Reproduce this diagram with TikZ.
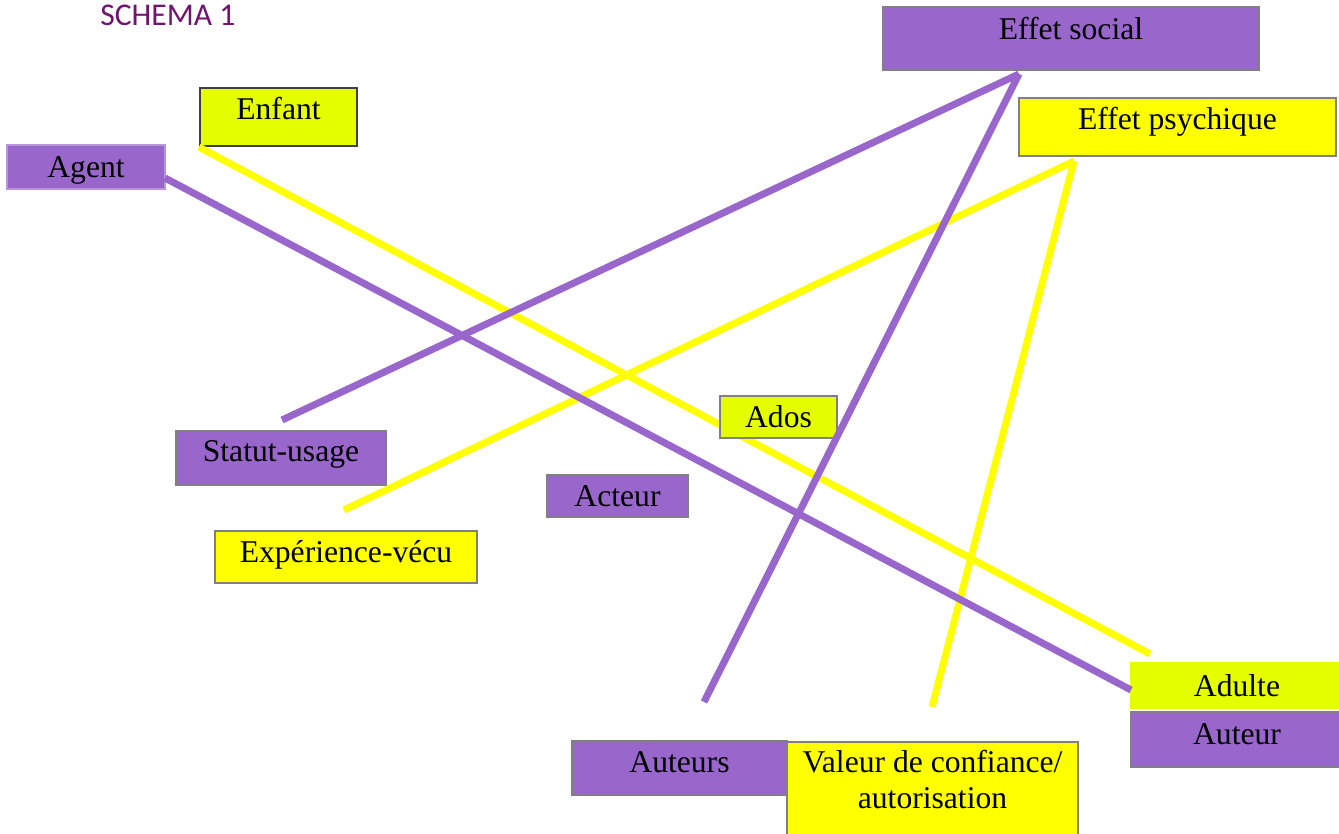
\documentclass[tikz,border=0pt]{standalone}
\usepackage{fontspec}
\setmainfont{Liberation Serif}
\newfontfamily\titlefont{Carlito}
\usepackage{xcolor}

\definecolor{lila}{RGB}{153,102,204}
\definecolor{jaune}{RGB}{255,255,0}
\definecolor{citron}{RGB}{230,255,0}
\definecolor{prune}{RGB}{112,20,112}

\tikzset{
  box/.style={rectangle, inner sep=0pt, line width=1pt, text height=12pt, text depth=0pt,
    font=\fontsize{18}{20.5}\selectfont},
  wh/.style 2 args={minimum width=#1*0.569pt, minimum height=#2*0.569pt},
  lift/.style={text depth=#1},
  purplebox/.style={box, fill=lila, draw=gray},
  yellowbox/.style={box, fill=jaune, draw=gray},
  limebox/.style={box, fill=citron, draw=gray},
  lienp/.style={draw=lila, line width=4pt},
  lieny/.style={draw=jaune, line width=4pt},
}

\begin{document}
\begin{tikzpicture}[x=0.02cm, y=-0.02cm]
  \useasboundingbox (0,0) rectangle (1339,834);
  % title
  \node[anchor=base west, inner sep=0pt, text=prune,
    font=\titlefont\fontsize{18}{20}\selectfont] (titre) at (100,26) {SCHEMA 1};
  % boxes
  \node[limebox, wh={157}{58}, lift=9pt, draw=black!75, line width=1.2pt] (enfant) at (278.5,117) {Enfant};
  \node[purplebox, wh={158}{44}, draw=lila!70!white] (agent) at (86,167) {Agent};
  \node[purplebox, wh={376}{63}, lift=11pt] (social) at (1071,38.5) {Effet social};
  \node[yellowbox, wh={317}{58}, lift=9pt] (psy) at (1177.5,127) {Effet psychique};
  \node[purplebox, wh={210}{54}, lift=8pt] (statut) at (281,458) {Statut-usage};
  \node[yellowbox, wh={262}{52}, lift=6pt] (exper) at (346,557) {Expérience-vécu};
  \node[purplebox, wh={141}{42}] (acteur) at (617.5,496) {Acteur};
  \node[limebox, wh={212}{45}, draw=citron] (adulte) at (1237,685.5) {Adulte};
  \node[purplebox, wh={212}{55}, lift=6pt] (auteur) at (1237,739.5) {Auteur};
  \node[purplebox, wh={215}{54}, lift=7pt] (auteurs) at (679.5,768) {Auteurs};
  \node[yellowbox, anchor=north, minimum width=291*0.569pt, inner xsep=0pt, inner ysep=5.6pt,
    text height=32.5pt, text depth=14pt, align=center] (valeur) at (932.5,741) {Valeur de confiance/\\autorisation};
  % free ends of the links
  \coordinate (socialpt) at (1019,74);
  \coordinate (psypt) at (1074,161);
  \coordinate (statutpt) at (282,420);
  \coordinate (experpt) at (344,510);
  \coordinate (auteurspt) at (704,702);
  \coordinate (valeurpt) at (932,707);
  \coordinate (agentpt) at (165,178);
  \coordinate (adultept) at (1150,654);
  \coordinate (adultew) at (1131,690);
  % yellow links
  \draw[lieny] (enfant.south west) -- (adultept);
  \draw[lieny] (psypt) -- (experpt);
  \draw[lieny] (psypt) -- (valeurpt);
  \node[limebox, wh={117}{42}] (ados) at (778.5,417) {Ados};
  % purple links
  \draw[lienp] (agentpt) -- (adultew);
  \draw[lienp] (socialpt) -- (statutpt);
  \draw[lienp] (socialpt) -- (auteurspt);
\end{tikzpicture}
\end{document}
